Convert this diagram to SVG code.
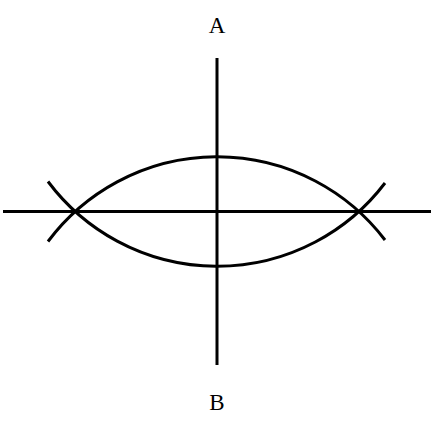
<svg xmlns="http://www.w3.org/2000/svg" width="434" height="421" viewBox="0 0 434 421">
<style>
.ln{stroke:#000;stroke-width:3;fill:none}
.lb{font-family:"Liberation Serif","DejaVu Serif",serif;font-size:23px;fill:#000;text-anchor:middle}
</style>
<rect width="434" height="421" fill="#fff"/>
<g id="connectors">
<line class="ln" x1="217" y1="58" x2="217" y2="365"/>
<line class="ln" x1="3" y1="211.5" x2="431" y2="211.5"/>
<path class="ln" d="M48,241.5 A211,211 0 0 1 385,240"/>
<path class="ln" d="M48,181.5 A211,211 0 0 0 385,183"/>
</g>
<g id="A"><text class="lb" x="217" y="33">A</text></g>
<g id="B"><text class="lb" x="217" y="410">B</text></g>
</svg>
